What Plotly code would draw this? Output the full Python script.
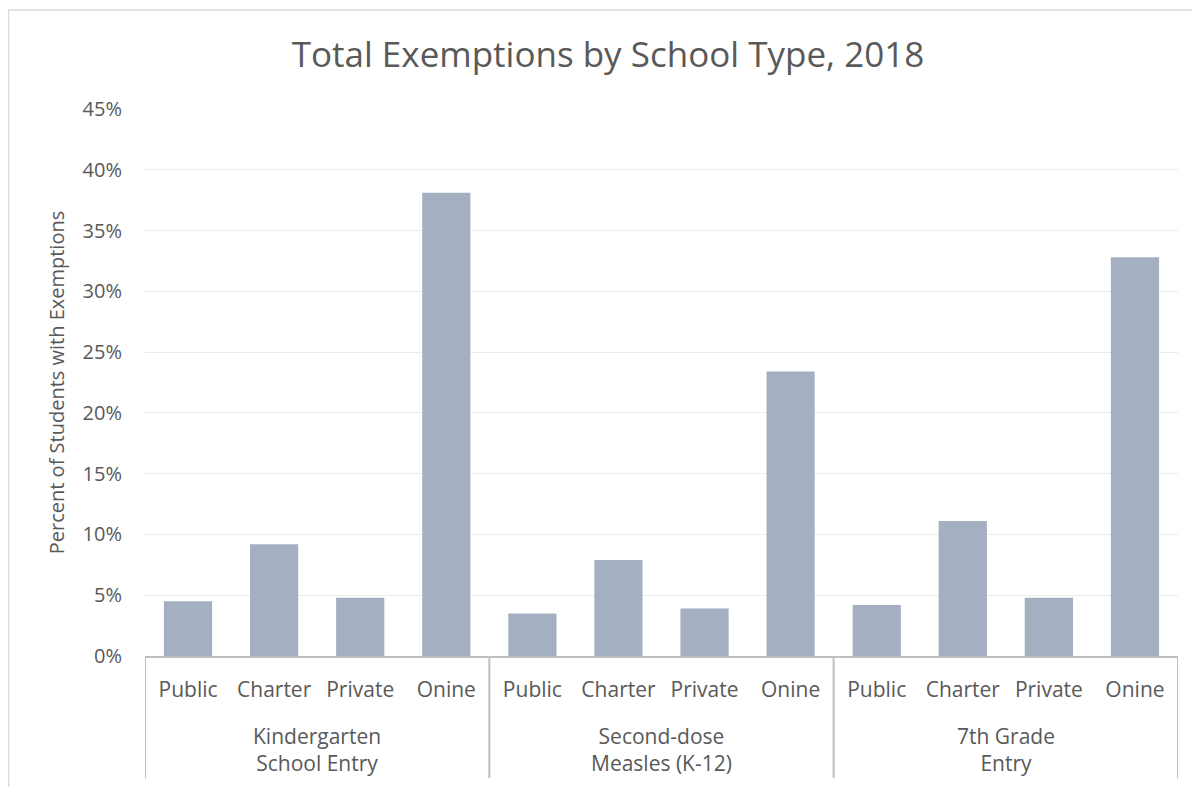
import plotly.graph_objects as go

groups = ["Kindergarten<br>School Entry", "Second-dose<br>Measles (K-12)", "7th Grade<br>Entry"]
school_types = ["Public", "Charter", "Private", "Onine"]
values = {
    "Kindergarten<br>School Entry": [0.045, 0.092, 0.048, 0.381],
    "Second-dose<br>Measles (K-12)": [0.035, 0.079, 0.039, 0.234],
    "7th Grade<br>Entry": [0.042, 0.111, 0.048, 0.328],
}
y_ticks = [0, 0.05, 0.10, 0.15, 0.20, 0.25, 0.30, 0.35, 0.40, 0.45]

n_types = len(school_types)
xpos, labels, vals = [], [], []
for gi, g in enumerate(groups):
    for ti, (t, v) in enumerate(zip(school_types, values[g])):
        xpos.append(gi * n_types + ti)
        labels.append(t)
        vals.append(v)

font_family = "Open Sans, Noto Sans, sans-serif"
text_color = "#595959"
axis_color = "#bfbfbf"

fig = go.Figure(go.Bar(
    x=xpos, y=vals,
    marker=dict(color="#a4afc2", line=dict(width=0)),
))

plot_h = 547
fig.update_layout(
    width=1200, height=787,
    paper_bgcolor="white", plot_bgcolor="white",
    margin=dict(l=137, r=30, t=101, b=139, autoexpand=False),
    bargap=0.44,
    showlegend=False,
    title=dict(text="Total Exemptions by School Type, 2018",
               font=dict(family=font_family, size=35, color=text_color),
               x=0.5, xanchor="center", y=0.94, yanchor="middle"),
    font=dict(family=font_family, color=text_color),
)
fig.update_xaxes(
    range=[-0.5, len(xpos) - 0.5],
    tickvals=xpos, ticktext=labels,
    showline=True, linecolor=axis_color, linewidth=2,
    showgrid=False, zeroline=False,
    tickfont=dict(size=21, color=text_color),
    ticks="", ticklabelstandoff=14,
)
fig.update_yaxes(
    range=[0, 0.45], tickvals=y_ticks, tickformat=".0%",
    showgrid=True, gridcolor="#ebebeb", gridwidth=1,
    zeroline=False, showline=False,
    tickfont=dict(size=20, color=text_color),
    ticklabelstandoff=22,
    title=dict(text="Percent of Students with Exemptions",
               font=dict(size=20, color=text_color), standoff=12),
)

# group labels and dividers
div_bottom = -(770 - 648) / plot_h
for gi, g in enumerate(groups):
    center = gi * n_types + (n_types - 1) / 2
    fig.add_annotation(x=center, xref="x", y=-(741 - 648) / plot_h, yref="paper",
                       text=g, showarrow=False, yanchor="middle",
                       font=dict(size=21, color=text_color, family=font_family))
for gi in range(len(groups) + 1):
    xd = gi * n_types - 0.5
    fig.add_shape(type="line", xref="x", yref="paper", x0=xd, x1=xd, y0=0, y1=div_bottom,
                  line=dict(color=axis_color, width=2))

# chart border
fig.add_shape(type="rect", xref="paper", yref="paper",
              x0=(0.5 - 137) / 1033, x1=(1300 - 137) / 1033,
              y0=-1.0, y1=1 + (101 - 2) / plot_h,
              line=dict(color="#d9d9d9", width=1.5), layer="below")

fig.write_html("out.html")
